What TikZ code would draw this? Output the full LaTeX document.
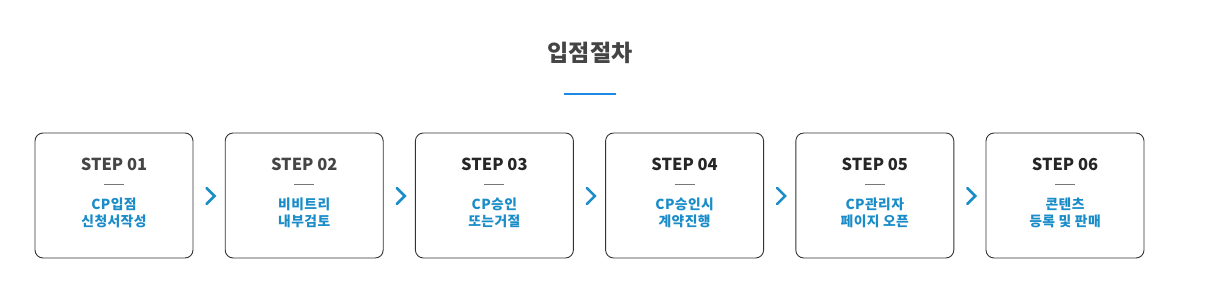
\documentclass[tikz,border=0pt]{standalone}
\usepackage{fontspec}
\setmainfont{Noto Sans CJK KR}
\definecolor{boxline}{HTML}{333333}
\definecolor{steptextA}{HTML}{454545}
\definecolor{steptextB}{HTML}{262626}
\definecolor{bluetext}{HTML}{1A8CC8}
\definecolor{titletext}{HTML}{444444}
\definecolor{titleline}{HTML}{1E88E5}
\definecolor{divider}{HTML}{777777}
\tikzset{
  stepbox/.style={draw=boxline, line width=0.9pt, rounded corners=8pt, minimum width=158pt, minimum height=125pt, inner sep=0pt},
  steplabel/.style={font=\fontsize{16.5}{18}\selectfont\bfseries, inner sep=0pt, anchor=base},
  desclabel/.style={font=\fontsize{13.8}{16.8}\selectfont\bfseries\addfontfeatures{LetterSpace=3}, text=bluetext, inner sep=0pt, align=center, anchor=north},
  chev/.style={draw=bluetext, line width=2.6pt, line cap=round, line join=miter},
  divline/.style={draw=divider, line width=0.8pt}
}
\begin{document}
\begin{tikzpicture}[x=1pt,y=-1pt]
\useasboundingbox (0,0) rectangle (1213,304);
\node[font=\fontsize{23}{26}\selectfont\bfseries, text=titletext, inner sep=0pt, anchor=base] (title) at (590,61.5) {입점절차};
\coordinate (tl1) at (564,94);
\coordinate (tl2) at (616,94);
\draw[titleline, line width=1.2pt] (tl1) -- (tl2);
\foreach \i/\num/\la/\lb/\sc in {0/01/CP입점/신청서작성/steptextA,1/02/비비트리/내부검토/steptextA,2/03/CP승인/또는거절/steptextB,3/04/CP승인시/계약진행/steptextB,4/05/CP관리자/페이지 오픈/steptextB,5/06/콘텐츠/등록 및 판매/steptextB}{
  \pgfmathsetmacro{\cx}{114+190.2*\i}
  \node[stepbox] (box\i) at (\cx,195.5) {};
  \node[steplabel, text=\sc] (step\i) at (\cx,170.5) {STEP \num};
  \coordinate (d\i a) at (\cx-10,184.5);
  \coordinate (d\i b) at (\cx+10,184.5);
  \draw[divline] (d\i a) -- (d\i b);
  \node[desclabel] (desc\i) at (\cx,198) {\la\\\lb};
}
\foreach \i in {0,...,4}{
  \pgfmathsetmacro{\ax}{206.5+190.2*\i}
  \coordinate (c\i a) at (\ax,188);
  \coordinate (c\i b) at (\ax+8,196);
  \coordinate (c\i c) at (\ax,204);
  \draw[chev] (c\i a) -- (c\i b) -- (c\i c);
}
\end{tikzpicture}
\end{document}
